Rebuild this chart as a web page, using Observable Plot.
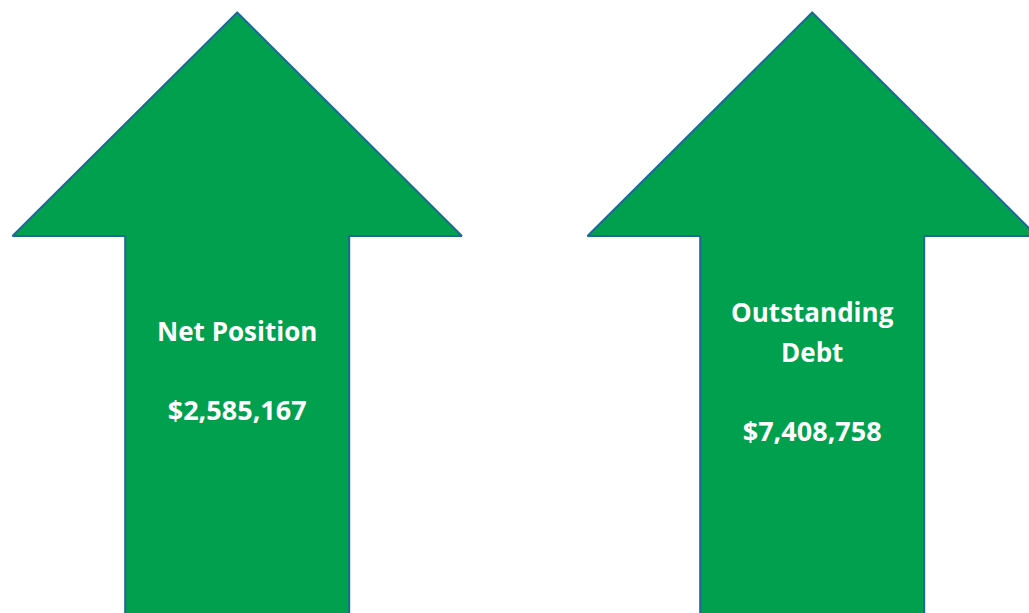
<!DOCTYPE html>
<html>
<head>
<meta charset="utf-8">
<script src="https://cdn.jsdelivr.net/npm/d3@7"></script>
<script src="https://cdn.jsdelivr.net/npm/@observablehq/plot@0.6"></script>
<style>
  html, body { margin: 0; padding: 0; background: #ffffff; overflow: hidden; }
  #chart svg { display: block; }
</style>
</head>
<body>
<div id="chart"></div>
<script>
// ---- data ----
const categories = ["Net Position", "Outstanding Debt"];
const labelLines = [["Net Position"], ["Outstanding", "Debt"]];
const values = [2585167, 7408758];

// ---- layout (pixel space) ----
const W = 1029, H = 613;
const centers = [236.7, 811.7];
const tipY = 12, headBaseY = 235.5, headHalf = 224.7, shaftHalf = 112, bottomY = 630;
const labelFirstBaseline = [340, 321.7];
const lineStep = 39.3;
const valueGap = 79.3;
const labelSize = 26;
const valueSize = 27;

const fmt = d3.format("$,");

// arrow polygons
const arrowPts = [];
categories.forEach((c, i) => {
  const cx = centers[i];
  const pts = [
    [cx, tipY],
    [cx + headHalf, headBaseY],
    [cx + shaftHalf, headBaseY],
    [cx + shaftHalf, bottomY],
    [cx - shaftHalf, bottomY],
    [cx - shaftHalf, headBaseY],
    [cx - headHalf, headBaseY],
    [cx, tipY]
  ];
  pts.forEach(([x, y]) => arrowPts.push({id: c, x, y}));
});

// text rows
const labelRows = [];
const valueRows = [];
categories.forEach((c, i) => {
  const lines = labelLines[i];
  lines.forEach((t, k) => {
    labelRows.push({x: centers[i], y: labelFirstBaseline[i] + k * lineStep - 0.32 * labelSize, text: t});
  });
  const lastBase = labelFirstBaseline[i] + (lines.length - 1) * lineStep;
  valueRows.push({x: centers[i], y: lastBase + valueGap - 0.32 * valueSize, text: fmt(values[i])});
});

const textOpts = {x: "x", y: "y", text: "text", fill: "#ffffff", fontWeight: "bold", fontFamily: "'Open Sans', sans-serif", textAnchor: "middle", lineAnchor: "middle"};

const chart = Plot.plot({
  width: W,
  height: H,
  margin: 0,
  x: {domain: [0, W], range: [0, W], axis: null},
  y: {domain: [0, H], range: [0, H], axis: null},
  style: {background: "#ffffff", overflow: "hidden"},
  marks: [
    Plot.line(arrowPts, {x: "x", y: "y", z: "id", fill: "#00a04e", stroke: "#1c6896", strokeWidth: 2, strokeLinejoin: "miter", curve: "linear"}),
    Plot.text(labelRows, {...textOpts, fontSize: labelSize}),
    Plot.text(valueRows, {...textOpts, fontSize: valueSize})
  ]
});
document.getElementById("chart").appendChild(chart);
</script>
</body>
</html>
